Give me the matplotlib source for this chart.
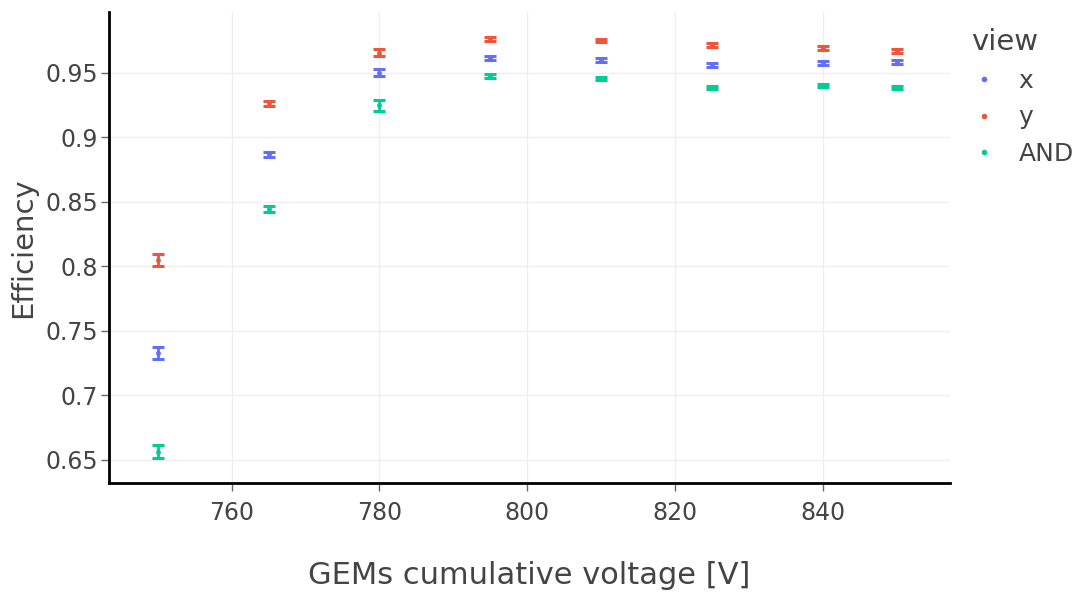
import numpy as np
import matplotlib

matplotlib.use("Agg")
import matplotlib.pyplot as plt

# ---------------------------------------------------------------------------
# Data
# ---------------------------------------------------------------------------
voltage = [750, 765, 780, 795, 810, 825, 840, 850]

eff_x = [0.7327, 0.8866, 0.9500, 0.9616, 0.9600, 0.9560, 0.9577, 0.9585]
err_x = [0.0045, 0.0022, 0.0030, 0.0015, 0.0015, 0.0015, 0.0015, 0.0015]

eff_y = [0.8046, 0.9262, 0.9655, 0.9760, 0.9747, 0.9710, 0.9692, 0.9670]
err_y = [0.0045, 0.0018, 0.0025, 0.0012, 0.0012, 0.0015, 0.0015, 0.0015]

eff_and = [0.6560, 0.8445, 0.9245, 0.9470, 0.9454, 0.9384, 0.9400, 0.9384]
err_and = [0.0050, 0.0022, 0.0040, 0.0015, 0.0015, 0.0015, 0.0015, 0.0015]

series = [
    ("x", eff_x, err_x, "#636efa"),
    ("y", eff_y, err_y, "#EF553B"),
    ("AND", eff_and, err_and, "#00cc96"),
]

plt.rcParams["font.family"] = ["DejaVu Sans"]
TEXT = "#444444"

fig = plt.figure(figsize=(10.83, 5.94), dpi=100)
ax = fig.add_axes([0.1006, 0.187, 0.7765, 0.793])

for name, vals, errs, col in series:
    ax.errorbar(
        voltage, vals, yerr=errs, fmt="o", color=col, markersize=2.5,
        elinewidth=2, capsize=4.2, capthick=2.2, label=name, zorder=3,
    )

ax.set_xlim(743.4, 857.2)
ax.set_ylim(0.632, 0.997)
ax.set_xticks([760, 780, 800, 820, 840])
ax.set_yticks([0.65, 0.7, 0.75, 0.8, 0.85, 0.9, 0.95])
ax.set_yticklabels(["0.65", "0.7", "0.75", "0.8", "0.85", "0.9", "0.95"])

ax.grid(True, color="#efefef", linewidth=1)
ax.set_axisbelow(True)
for side in ("top", "right"):
    ax.spines[side].set_visible(False)
for side in ("left", "bottom"):
    ax.spines[side].set_linewidth(2)
    ax.spines[side].set_color("black")

ax.tick_params(axis="both", colors="#666666", labelsize=17, length=6,
               width=1)
ax.tick_params(axis="y", pad=2)
ax.tick_params(axis="x", pad=7)
ax.tick_params(axis="both", labelcolor=TEXT)

ax.set_xlabel("GEMs cumulative voltage [V]", fontsize=22, color=TEXT,
              labelpad=26)
ax.set_ylabel("Efficiency", fontsize=21, color=TEXT, labelpad=6)

handles = [
    plt.Line2D([], [], marker="o", linestyle="none", color=col, markersize=3)
    for _, _, _, col in series
]
leg = fig.legend(
    handles, [s[0] for s in series], title="view", loc="upper left",
    bbox_to_anchor=(0.876, 0.99), frameon=False, fontsize=18,
    title_fontsize=21, handlelength=1.0, handletextpad=0.9,
    labelspacing=0.5, alignment="left",
)
for t in leg.get_texts():
    t.set_color(TEXT)
leg.get_title().set_color(TEXT)

fig.savefig("out.png", dpi=100)
